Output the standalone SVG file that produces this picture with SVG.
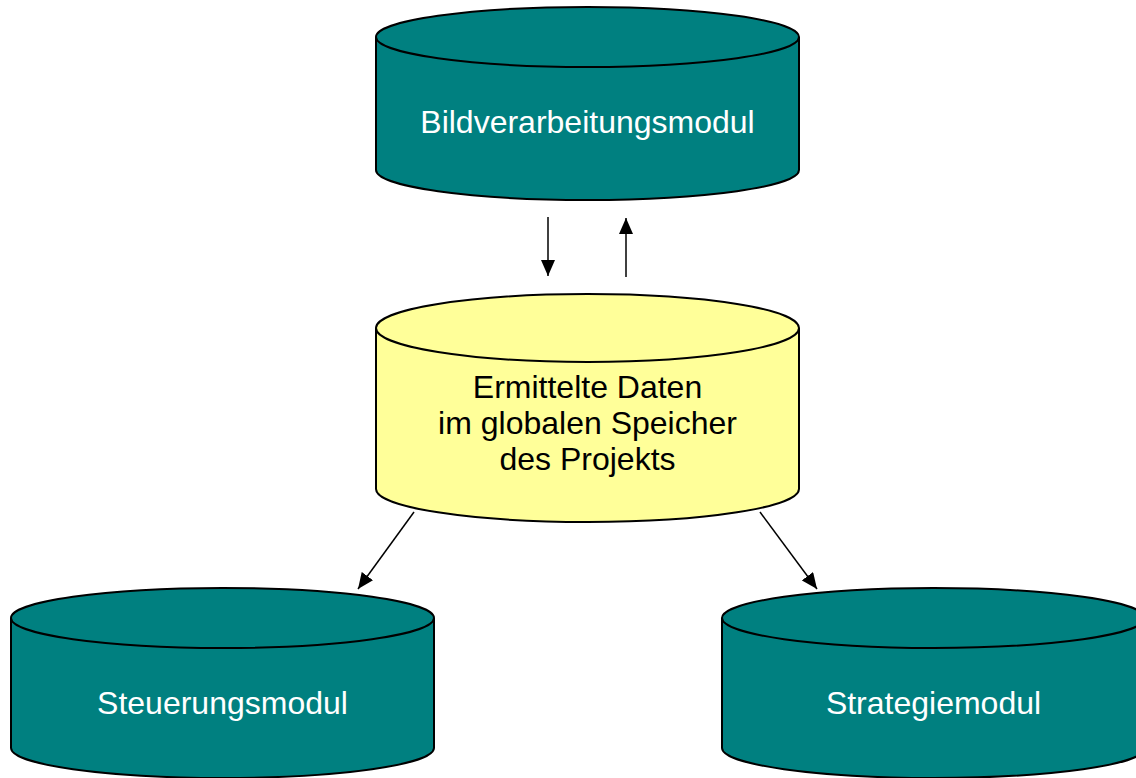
<svg xmlns="http://www.w3.org/2000/svg" width="1136" height="778" viewBox="0 0 1136 778">
<style>
.teal{fill:#008080;stroke:#000;stroke-width:2}
.yel{fill:#FFFF99;stroke:#000;stroke-width:2}
.lw{font-family:"Liberation Sans",Arial,sans-serif;font-size:32px;fill:#fff;text-anchor:middle}
.lb{font-family:"Liberation Sans",Arial,sans-serif;font-size:32px;fill:#000;text-anchor:middle}
</style>
<defs>
<marker id="arr" viewBox="0 0 16 14" refX="16" refY="7" markerWidth="16" markerHeight="14" orient="auto" markerUnits="userSpaceOnUse">
<path d="M0,0 L16,7 L0,14 Z" fill="#000"/>
</marker>
</defs>
<g id="bild">
<path class="teal" d="M376,37 L376,170 A211.5,30 0 0 0 799,170 L799,37"/>
<ellipse class="teal" cx="587.5" cy="37" rx="211.5" ry="30"/>
<text class="lw" x="587.5" y="133">Bildverarbeitungsmodul</text>
</g>
<g id="daten">
<path class="yel" d="M376,328 L376,489 A211.5,33 0 0 0 799,489 L799,328"/>
<ellipse class="yel" cx="587.5" cy="328" rx="211.5" ry="34"/>
<text class="lb" x="587.5" y="398">Ermittelte Daten</text>
<text class="lb" x="587.5" y="434">im globalen Speicher</text>
<text class="lb" x="587.5" y="470">des Projekts</text>
</g>
<g id="steuer">
<path class="teal" d="M11,618 L11,748 A211.5,30 0 0 0 434,748 L434,618"/>
<ellipse class="teal" cx="222.5" cy="618" rx="211.5" ry="30"/>
<text class="lw" x="222.5" y="714">Steuerungsmodul</text>
</g>
<g id="strat">
<path class="teal" d="M722,618 L722,748 A211.5,30 0 0 0 1145,748 L1145,618"/>
<ellipse class="teal" cx="933.5" cy="618" rx="211.5" ry="30"/>
<text class="lw" x="933.5" y="714">Strategiemodul</text>
</g>
<g id="connectors" stroke="#000" stroke-width="1.5" fill="none">
<line x1="548" y1="217" x2="548" y2="276" marker-end="url(#arr)"/>
<line x1="626" y1="277" x2="626" y2="218" marker-end="url(#arr)"/>
<line x1="414" y1="512" x2="358" y2="589" marker-end="url(#arr)"/>
<line x1="760" y1="512" x2="817" y2="589" marker-end="url(#arr)"/>
</g>
</svg>
